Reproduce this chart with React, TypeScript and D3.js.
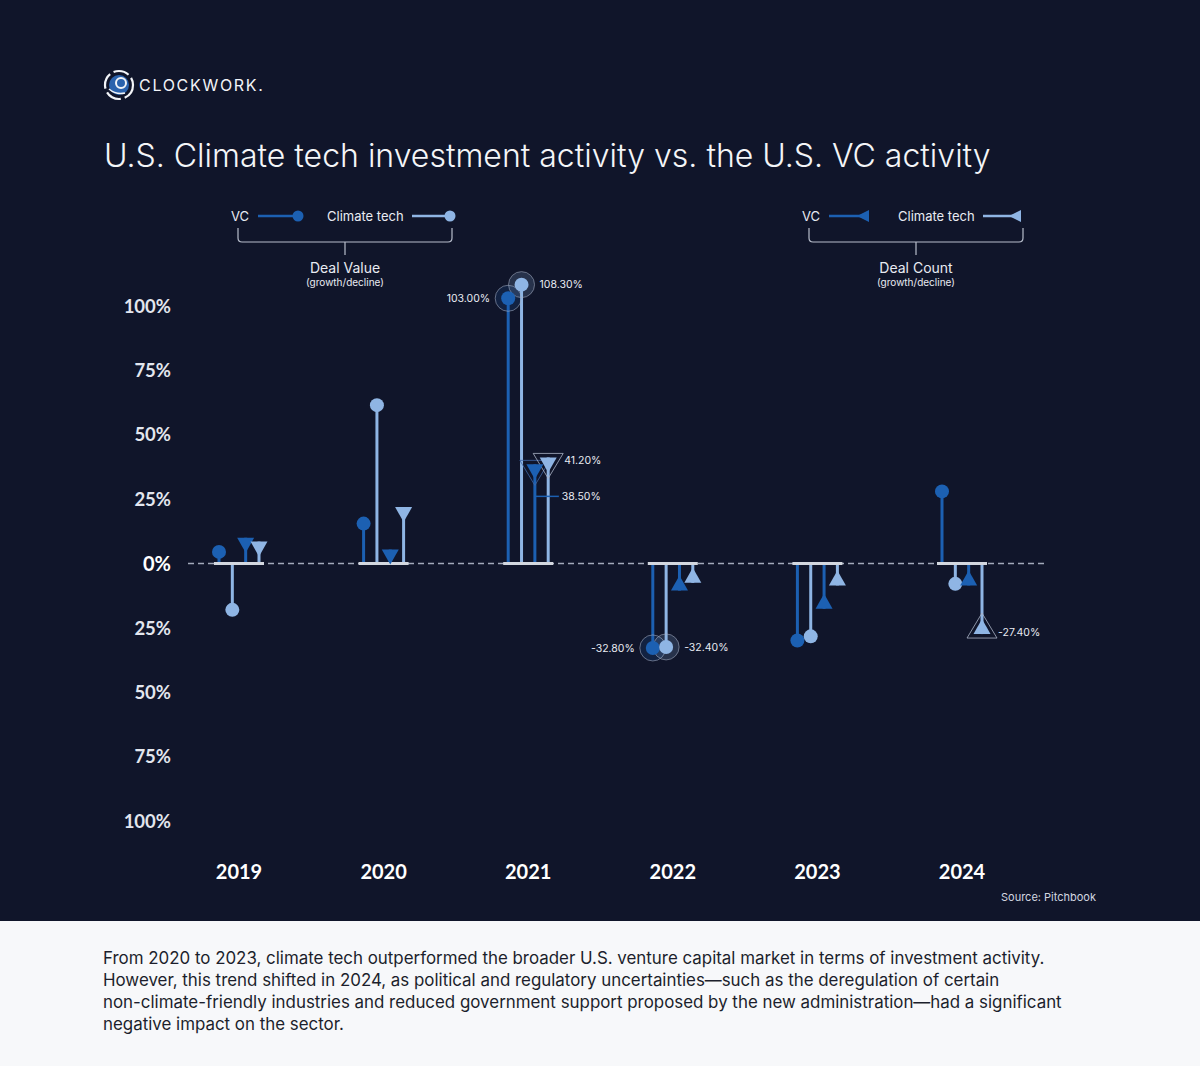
import React from "react"
import { scaleLinear, scalePoint, line } from "d3"

// data
const years = ["2019", "2020", "2021", "2022", "2023", "2024"]
const vcDealValue = [4.5, 15.5, 103.0, -32.8, -29.9, 28.0]
const ctDealValue = [-18.0, 61.5, 108.3, -32.4, -28.3, -7.9]
const vcDealCount = [10.0, 5.4, 38.5, -10.5, -17.6, -8.5]
const ctDealCount = [8.5, 21.9, 41.2, -7.5, -8.5, -27.4]
const yTicks = [100, 75, 50, 25, 0, -25, -50, -75, -100]

const annotations = [
  { year: "2021", series: "vcValue", label: "103.00%", side: "left" },
  { year: "2021", series: "ctValue", label: "108.30%", side: "right" },
  { year: "2021", series: "vcCount", label: "38.50%", side: "leader" },
  { year: "2021", series: "ctCount", label: "41.20%", side: "right" },
  { year: "2022", series: "vcValue", label: "-32.80%", side: "left" },
  { year: "2022", series: "ctValue", label: "-32.40%", side: "right" },
  { year: "2024", series: "ctCount", label: "-27.40%", side: "right" },
]

const caption = [
  "From 2020 to 2023, climate tech outperformed the broader U.S. venture capital market in terms of investment activity.",
  "However, this trend shifted in 2024, as political and regulatory uncertainties\u2014such as the deregulation of certain",
  "non-climate-friendly industries and reduced government support proposed by the new administration\u2014had a significant",
  "negative impact on the sector.",
]

// colors
const BG = "#10152a"
const VC_BLUE = "#1c60b2"
const CT_BLUE = "#8fb5e4"
const TEXT = "#e8ebf2"
const FONT = "Inter, 'Noto Sans', sans-serif"

const series = [
  { key: "vcValue", values: vcDealValue, color: VC_BLUE, shape: "circle" },
  { key: "ctValue", values: ctDealValue, color: CT_BLUE, shape: "circle" },
  { key: "vcCount", values: vcDealCount, color: VC_BLUE, shape: "triangle" },
  { key: "ctCount", values: ctDealCount, color: CT_BLUE, shape: "triangle" },
]

const width = 1200
const height = 1066

const triLine = line<[number, number]>()
const triangle = (x: number, yFlat: number, w: number, h: number, dir: number) =>
  // dir = 1 tip points down, -1 tip points up
  triLine([
    [x - w / 2, yFlat],
    [x + w / 2, yFlat],
    [x, yFlat + dir * h],
  ]) + "Z"

const Legend = ({ x, title, shape }: { x: number; title: string; shape: string }) => {
  const marker = (lx: number, color: string) =>
    shape === "circle" ? (
      <circle cx={lx} cy={216} r={5.5} fill={color} />
    ) : (
      <path d={`M${lx},${210}L${lx},${222}L${lx - 12},${216}Z`} fill={color} />
    )
  return (
    <g transform={`translate(${x},0)`} fontFamily={FONT}>
      <text x={0} y={220.5} fill={TEXT} fontSize={13}>VC</text>
      <line x1={27} x2={67} y1={216} y2={216} stroke={VC_BLUE} strokeWidth={2.5} />
      {marker(67, VC_BLUE)}
      <text x={96} y={220.5} fill={TEXT} fontSize={13}>Climate tech</text>
      <line x1={181} x2={219} y1={216} y2={216} stroke={CT_BLUE} strokeWidth={2.5} />
      {marker(219, CT_BLUE)}
      <path
        d={`M7,228 V238 Q7,242 11,242 H217 Q221,242 221,238 V228 M114,242 V255`}
        fill="none"
        stroke="#b7bdcb"
        strokeWidth={1.2}
      />
      <text x={114} y={273} textAnchor="middle" fill={TEXT} fontSize={14}>{title}</text>
      <text x={114} y={286} textAnchor="middle" fill={TEXT} fontSize={10}>(growth/decline)</text>
    </g>
  )
}

const App = () => {
  const yScale = scaleLinear().domain([-100, 100]).range([821, 306])
  const xScale = scalePoint<string>().domain(years).range([239, 962])
  const inner = scalePoint<string>()
    .domain(series.map((s) => s.key))
    .range([-20, 20])
  const y0 = yScale(0)

  const pos = (year: string, key: string) => {
    const s = series.find((d) => d.key === key)!
    const v = s.values[years.indexOf(year)]
    return { x: (xScale(year) ?? 0) + (inner(key) ?? 0), y: yScale(v), v, s }
  }

  return (
    <svg
      width={width}
      height={height}
      style={{ position: "absolute", left: 0, top: 0, display: "block" }}
    >
      <rect width={width} height={921} fill={BG} />
      <rect y={921} width={width} height={height - 921} fill="#f7f8fa" />

      {/* logo */}
      <g transform="translate(119,85)">
        <circle r={14} fill="none" stroke="#f2f4f8" strokeWidth={2.2} strokeDasharray="16 4" />
        <circle r={10} fill="#2a62ad" />
        <circle cx={2} cy={-2} r={5} fill="none" stroke="#f2f4f8" strokeWidth={2} />
        <path d="M-10,4 Q-3,10 6,8" fill="none" stroke="#f2f4f8" strokeWidth={1.6} />
      </g>
      <text x={139} y={91} fill="#f2f4f8" fontFamily={FONT} fontSize={16} letterSpacing={1.7}>
        CLOCKWORK.
      </text>

      {/* title */}
      <text x={104} y={167} fill="#f4f5f8" fontFamily={FONT} fontWeight={300} fontSize={32}>
        U.S. Climate tech investment activity vs. the U.S. VC activity
      </text>

      <Legend x={231} title="Deal Value" shape="circle" />
      <Legend x={802} title="Deal Count" shape="triangle" />

      {/* y axis */}
      {yTicks.map((t) => (
        <text
          key={t}
          x={171}
          y={yScale(t)}
          dy="0.36em"
          textAnchor="end"
          fontFamily="Lato, sans-serif"
          fontWeight={700}
          fontSize={t === 0 ? 20 : 18.5}
          fill={t === 0 ? "#ffffff" : "#e3e6ee"}
        >
          {`${Math.abs(t)}%`}
        </text>
      ))}

      {/* zero line */}
      <line x1={188} x2={1045} y1={y0} y2={y0} stroke="#a3aabb" strokeWidth={1.3} strokeDasharray="6 4" />

      {/* stems */}
      {years.map((year) =>
        series.map((s) => {
          const p = pos(year, s.key)
          return (
            <line key={year + s.key} x1={p.x} x2={p.x} y1={y0} y2={p.y} stroke={s.color} strokeWidth={3} />
          )
        }),
      )}

      {/* group baselines */}
      {years.map((year) => (
        <line
          key={year}
          x1={(xScale(year) ?? 0) - 25}
          x2={(xScale(year) ?? 0) + 25}
          y1={y0}
          y2={y0}
          stroke="#d3d7df"
          strokeWidth={3}
        />
      ))}

      {/* annotation halos */}
      {annotations.map((a) => {
        const p = pos(a.year, a.series)
        if (p.s.shape === "circle") {
          return (
            <circle
              key={a.label + "h"}
              cx={p.x}
              cy={p.y}
              r={13}
              fill={p.s.color}
              fillOpacity={0.18}
              stroke="#aab3c6"
              strokeOpacity={0.55}
              strokeWidth={1}
            />
          )
        }
        const dir = p.v >= 0 ? 1 : -1
        return (
          <path
            key={a.label + "h"}
            d={triangle(p.x, p.y - dir * 4, 30, 25, dir)}
            fill="none"
            stroke={a.series === "vcCount" ? "#3f67a5" : "#aab3c6"}
            strokeOpacity={0.8}
            strokeWidth={1}
          />
        )
      })}

      {/* markers */}
      {years.map((year) =>
        series.map((s) => {
          const p = pos(year, s.key)
          if (s.shape === "circle") {
            return <circle key={year + s.key + "m"} cx={p.x} cy={p.y} r={7} fill={s.color} />
          }
          const dir = p.v >= 0 ? 1 : -1
          return <path key={year + s.key + "m"} d={triangle(p.x, p.y, 17, 15, dir)} fill={s.color} />
        }),
      )}

      {/* annotation labels */}
      {annotations.map((a) => {
        const p = pos(a.year, a.series)
        const common = { fontFamily: FONT, fontSize: 10.5, fill: TEXT, dy: "0.35em" }
        if (a.side === "leader") {
          const ly = p.y + 32
          return (
            <g key={a.label}>
              <line x1={p.x} x2={p.x + 24} y1={ly} y2={ly} stroke={VC_BLUE} strokeWidth={1.5} />
              <text x={p.x + 27} y={ly} {...common}>{a.label}</text>
            </g>
          )
        }
        const off = p.s.shape === "circle" ? 18 : 16
        const ty = p.s.shape === "circle" ? p.y : p.v >= 0 ? p.y + 3 : p.y - 2
        return a.side === "left" ? (
          <text key={a.label} x={p.x - off} y={ty} textAnchor="end" {...common}>{a.label}</text>
        ) : (
          <text key={a.label} x={p.x + off} y={ty} {...common}>{a.label}</text>
        )
      })}

      {/* x axis labels */}
      {years.map((year) => (
        <text
          key={year}
          x={xScale(year)}
          y={879}
          textAnchor="middle"
          fontFamily="Lato, sans-serif"
          fontWeight={700}
          fontSize={20}
          fill="#ffffff"
        >
          {year}
        </text>
      ))}

      <text x={1096} y={901} textAnchor="end" fontFamily={FONT} fontSize={11} fill="#d3d7e0">
        Source: Pitchbook
      </text>

      {/* caption */}
      {caption.map((c, i) => (
        <text key={i} x={103} y={964 + i * 22} fontFamily={FONT} fontSize={16.9} fill="#1c1f2c">
          {c}
        </text>
      ))}
    </svg>
  )
}

export default App
